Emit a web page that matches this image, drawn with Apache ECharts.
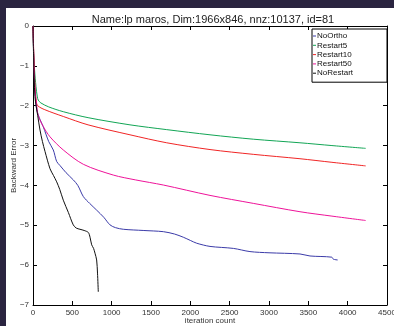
<!DOCTYPE html>
<html lang="en">
<head>
<meta charset="UTF-8">
<title>lp maros</title>
<script src="https://cdn.jsdelivr.net/npm/echarts@6/dist/echarts.min.js"></script>
<style>
  html, body { margin: 0; padding: 0; background: #2a2440; width: 394px; height: 326px; overflow: hidden; }
  #main { position: absolute; left: 6px; top: 8px; width: 388px; height: 318px; background: #fff; }
</style>
</head>
<body>
<div id="main"></div>
<script>
// [iteration, log10 backward error]
var noOrtho = [[0,0],[10,-0.8],[25,-1.6],[47,-2.1],[90,-2.35],[131,-2.53],[200,-2.9],[258,-3.11],[301,-3.4],[343,-3.5],[420,-3.68],[512,-3.86],[570,-4.0],[640,-4.28],[720,-4.45],[809,-4.62],[900,-4.8],[979,-4.99],[1050,-5.06],[1148,-5.1],[1400,-5.13],[1657,-5.16],[1800,-5.22],[1911,-5.3],[2000,-5.38],[2081,-5.45],[2250,-5.53],[2547,-5.58],[2758,-5.66],[3000,-5.69],[3394,-5.72],[3521,-5.77],[3797,-5.8],[3818,-5.85],[3873,-5.87]];
var restart5 = [[0,0],[5,-0.5],[20,-1.1],[38,-1.52],[55,-1.78],[67,-1.86],[100,-1.93],[200,-2.03],[385,-2.15],[700,-2.3],[1233,-2.48],[1700,-2.6],[2250,-2.73],[2800,-2.84],[3394,-2.93],[3800,-3.0],[4229,-3.07]];
var restart10 = [[0,0],[10,-0.7],[25,-1.5],[40,-1.88],[60,-2.0],[150,-2.1],[385,-2.27],[700,-2.48],[1233,-2.73],[1700,-2.93],[2250,-3.1],[2800,-3.22],[3394,-3.33],[3800,-3.42],[4229,-3.51]];
var restart50 = [[0,0],[10,-0.8],[25,-1.6],[45,-1.95],[67,-2.25],[130,-2.52],[216,-2.78],[385,-3.11],[640,-3.47],[1021,-3.74],[1300,-3.86],[1657,-3.99],[2250,-4.25],[2800,-4.45],[3394,-4.66],[3800,-4.77],[4229,-4.88]];
var noRestart = [[0,0],[8,-0.8],[25,-1.77],[60,-2.25],[89,-2.61],[120,-2.9],[153,-3.15],[216,-3.58],[260,-3.75],[301,-3.91],[340,-4.1],[385,-4.37],[450,-4.68],[512,-4.99],[550,-5.07],[597,-5.1],[650,-5.13],[703,-5.18],[725,-5.3],[746,-5.49],[770,-5.58],[788,-5.7],[809,-5.87],[820,-6.2],[830,-6.67]];

var names = ['NoOrtho','Restart5','Restart10','Restart50','NoRestart'];
var colors = ['#3b3ba8','#12a555','#f02525','#ee1399','#111111'];
var datas = [noOrtho, restart5, restart10, restart50, noRestart];

var axisTxt = { fontSize: 8, color: '#333', fontFamily: 'Liberation Sans' };
function box(pos, labels) {
  return {
    position: pos,
    axisLine: { show: true, onZero: false, lineStyle: { color: '#000', width: 1 } },
    axisTick: { show: true, inside: true, length: 4, lineStyle: { color: '#000' } },
    axisLabel: { show: labels },
    splitLine: { show: false }
  };
}

var xBottom = Object.assign(box('bottom', true), {
  type: 'value', min: 0, max: 4500, interval: 500,
  name: 'iteration count', nameLocation: 'middle', nameGap: 12, nameMoveOverlap: false,
  nameTextStyle: axisTxt,
  axisLabel: Object.assign({ show: true, margin: 4, hideOverlap: false, formatter: function (v) { return String(v); } }, axisTxt)
});
var xTop = Object.assign(box('top', false), { type: 'value', min: 0, max: 4500, interval: 500 });
var yLeft = Object.assign(box('left', true), {
  type: 'value', min: -7, max: 0, interval: 1,
  name: 'Backward Error', nameLocation: 'middle', nameGap: 15, nameMoveOverlap: false,
  nameTextStyle: axisTxt,
  axisLabel: Object.assign({ show: true, margin: 4, formatter: function (v) { return String(v).replace('-', '\u2212'); } }, axisTxt)
});
var yRight = Object.assign(box('right', false), { type: 'value', min: -7, max: 0, interval: 1 });

var option = {
  animation: false,
  title: {
    text: 'Name:lp maros, Dim:1966x846, nnz:10137, id=81',
    left: 202, top: 1, textAlign: 'center',
    textStyle: { fontSize: 11, fontWeight: 'normal', color: '#222', fontFamily: 'Liberation Sans' }
  },
  grid: { left: 27, top: 18, right: 7, bottom: 21, containLabel: false, outerBoundsMode: 'none' },
  legend: {
    data: names, orient: 'vertical', left: 306, top: 21,
    icon: 'rect', itemWidth: 3, itemHeight: 1, itemGap: 1.3,
    padding: [3, 34, 5, 1],
    borderColor: '#000', borderWidth: 1, backgroundColor: '#fff',
    textStyle: { fontSize: 8, color: '#111', padding: [0, 0, 0, -4], lineHeight: 8, fontFamily: 'Liberation Sans' }
  },
  xAxis: [xBottom, xTop],
  yAxis: [yLeft, yRight],
  series: names.map(function (n, i) {
    return {
      name: n, type: 'line', data: datas[i], showSymbol: false, smooth: 0.3,
      xAxisIndex: 0, yAxisIndex: 0,
      lineStyle: { color: colors[i], width: 1 }, itemStyle: { color: colors[i] }
    };
  })
};
var myChart = echarts.init(document.getElementById('main'));
myChart.setOption(option);
</script>
</body>
</html>
